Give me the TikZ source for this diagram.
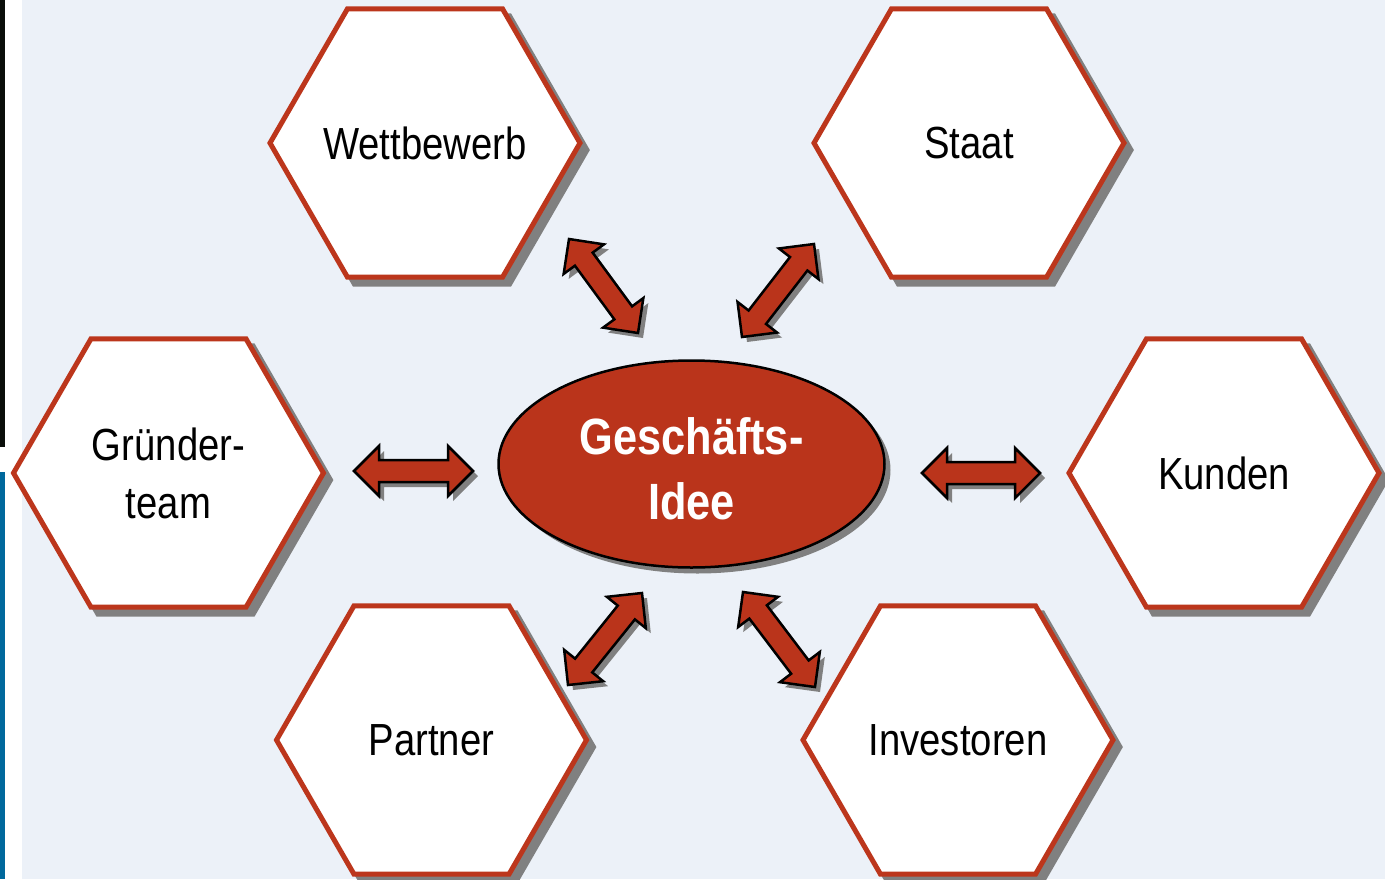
\documentclass[tikz,border=0pt]{standalone}
\usepackage{fontspec}
\setmainfont{Liberation Sans}[FakeStretch=0.85]
\usetikzlibrary{shapes.geometric,shadows,calc}

\definecolor{brick}{RGB}{186,52,27}
\definecolor{hexred}{RGB}{188,54,28}
\definecolor{bgblue}{RGB}{236,241,248}
\definecolor{shadowgray}{RGB}{128,128,128}
\definecolor{stripblue}{RGB}{0,104,156}
\definecolor{stripdark}{RGB}{10,14,10}

% outline of a two-headed block arrow between two tips
\newcommand\arrowoutline[2]{%
  (#1)
  -- ($(#1)!25pt!(#2)!25pt!90:(#2)$)
  -- ($(#1)!25pt!(#2)!11pt!90:(#2)$)
  -- ($(#2)!25pt!(#1)!11pt!-90:(#1)$)
  -- ($(#2)!25pt!(#1)!25pt!-90:(#1)$)
  -- (#2)
  -- ($(#2)!25pt!(#1)!25pt!90:(#1)$)
  -- ($(#2)!25pt!(#1)!11pt!90:(#1)$)
  -- ($(#1)!25pt!(#2)!11pt!-90:(#2)$)
  -- ($(#1)!25pt!(#2)!25pt!-90:(#2)$)
  -- cycle}
\newcommand\blockarrow[2]{%
  \fill[shadowgray, transform canvas={shift={(5pt,-5pt)}}] \arrowoutline{#1}{#2};
  \filldraw[arrowbody] \arrowoutline{#1}{#2};}

\tikzset{
  hexbox/.style={regular polygon, regular polygon sides=6,
    minimum size=310pt, inner sep=0pt, fill=white, draw=hexred,
    line width=5pt, text depth=0pt, align=center,
    font=\fontsize{45}{58}\selectfont,
    drop shadow={shadow xshift=7pt, shadow yshift=-7pt, opacity=1,
      fill=shadowgray, draw=shadowgray}},
  ideabox/.style={ellipse, minimum width=386pt, minimum height=207pt,
    inner sep=0pt, fill=brick, draw=black, line width=2.5pt,
    text=white, align=center, font=\bfseries\fontsize{51}{65}\selectfont,
    text height=111pt, text depth=0pt,
    drop shadow={shadow xshift=6pt, shadow yshift=-6pt, opacity=1,
      fill=shadowgray}},
  arrowbody/.style={fill=brick, draw=black, line width=2.5pt, line join=miter}
}

\begin{document}
\begin{tikzpicture}[x=1pt, y=-1pt]
  \useasboundingbox (0,0) rectangle (1385,879);
  % page background and the strips along the left edge
  \fill[white] (0,0) rectangle (1385,879);
  \fill[bgblue] (22,0) rectangle (1385,879);
  \fill[stripdark] (0,0) rectangle (5,447);
  \fill[stripblue] (0,472) rectangle (5,879);

  % surrounding fields (wide labels get a zero-width box so the hexagon keeps its size)
  \node[hexbox] (wett)  at (425,143)   {\makebox[0pt]{Wettbewerb}};
  \node[hexbox] (staat) at (969,143)   {Staat};
  \node[hexbox] (team)  at (168.5,473) {Gründer-\\team};
  \node[hexbox] (kund)  at (1224,473)  {Kunden};
  \node[hexbox] (part)  at (431.5,740) {Partner};
  \node[hexbox] (inv)   at (958,740)   {\makebox[0pt]{Investoren}};

  % central idea
  \node[ideabox] (idea) at (691.5,464) {Geschäfts-\\Idee};

  % tips of the exchange arrows
  \coordinate (tlA) at (569,239);  \coordinate (tlB) at (638,333);
  \coordinate (trA) at (814,244);  \coordinate (trB) at (742,337);
  \coordinate (lA)  at (354,471);  \coordinate (lB)  at (473,471);
  \coordinate (rA)  at (922,473);  \coordinate (rB)  at (1040,473);
  \coordinate (blA) at (642,593);  \coordinate (blB) at (568,685);
  \coordinate (brA) at (743,592);  \coordinate (brB) at (815,687);

  \blockarrow{tlA}{tlB}
  \blockarrow{trA}{trB}
  \blockarrow{lA}{lB}
  \blockarrow{rA}{rB}
  \blockarrow{blA}{blB}
  \blockarrow{brA}{brB}
\end{tikzpicture}
\end{document}
